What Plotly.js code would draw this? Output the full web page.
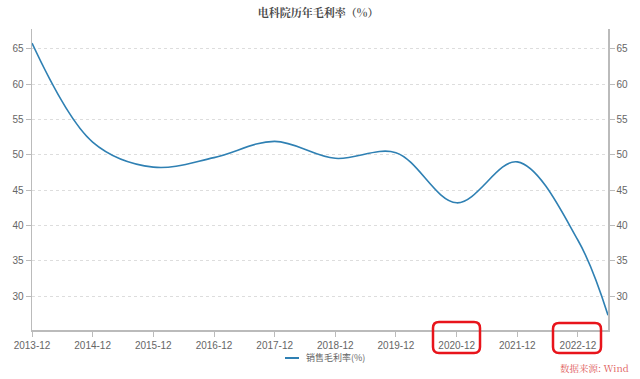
<!DOCTYPE html>
<html>
<head>
<meta charset="utf-8">
<script src="https://cdn.plot.ly/plotly-3.0.1.min.js"></script>
<style>html,body{margin:0;padding:0;background:#fff;}#chart{width:640px;height:379px;}</style>
</head>
<body>
<div id="chart"></div>
<script>
// Data
var periods = ['2013-12-31','2014-12-31','2015-12-31','2016-12-31','2017-12-31','2018-12-31','2019-12-31','2020-12-31','2021-12-31','2022-12-31','2023-06-30'];
var grossMargin = [65.8, 51.8, 48.25, 49.6, 51.9, 49.5, 50.3, 43.2, 49.0, 37.9, 27.3];
var tickDates = ['2013-12-31','2014-12-31','2015-12-31','2016-12-31','2017-12-31','2018-12-31','2019-12-31','2020-12-31','2021-12-31','2022-12-31'];
var tickLabels = ['2013-12','2014-12','2015-12','2016-12','2017-12','2018-12','2019-12','2020-12','2021-12','2022-12'];
var yTicks = [30,35,40,45,50,55,60,65];
var seriesName = '销售毛利率(%)';
var chartTitle = '电科院历年毛利率（%）';
var sourceText = '数据来源: Wind';

var W = 640, H = 379, ML = 32, MR = 32, MT = 29, MB = 49;
var PW = W - ML - MR, PH = H - MT - MB;
function px(x){ return (x - ML) / PW; }
function py(y){ return (H - MB - y) / PH; }
function roundRect(x0, y0, x1, y1, r){
  var a = px(x0), b = px(x1), c = py(y0), d = py(y1);
  var rx = r / PW, ry = r / PH;
  return 'M' + (a+rx) + ',' + c + ' L' + (b-rx) + ',' + c + ' Q' + b + ',' + c + ' ' + b + ',' + (c-ry) +
    ' L' + b + ',' + (d+ry) + ' Q' + b + ',' + d + ' ' + (b-rx) + ',' + d +
    ' L' + (a+rx) + ',' + d + ' Q' + a + ',' + d + ' ' + a + ',' + (d+ry) +
    ' L' + a + ',' + (c-ry) + ' Q' + a + ',' + c + ' ' + (a+rx) + ',' + c + ' Z';
}

var lineColor = '#2f80b3';
var trace = {
  x: periods, y: grossMargin, type: 'scatter', mode: 'lines', name: seriesName,
  line: {color: lineColor, width: 1.6, shape: 'spline', smoothing: 1},
  showlegend: false, hoverinfo: 'skip'
};
var trace2 = {
  x: periods, y: grossMargin, type: 'scatter', mode: 'lines', yaxis: 'y2',
  line: {color: 'rgba(0,0,0,0)', width: 0}, showlegend: false, hoverinfo: 'skip'
};

var axisFont = {family: 'Liberation Sans, Arial, sans-serif', size: 10, color: '#666'};
var yRange = [25.2, 67.8];

var layout = {
  width: W, height: H,
  margin: {l: ML, r: MR, t: MT, b: MB, pad: 0},
  paper_bgcolor: '#fff', plot_bgcolor: '#fff',
  showlegend: false,
  title: {text: chartTitle, x: 0.497, xanchor: 'center', y: 1 - 13/H, yanchor: 'middle',
          font: {family: 'Noto Serif CJK SC, Noto Sans CJK SC, serif', size: 11, color: '#4a4a4a', weight: 'bold'}},
  xaxis: {
    type: 'date', range: ['2013-12-31','2023-06-30'], automargin: false,
    tickmode: 'array', tickvals: tickDates, ticktext: tickLabels,
    showgrid: false, zeroline: false, showline: true, linecolor: '#bbb', linewidth: 1.5,
    ticks: 'outside', ticklen: 5, tickcolor: '#bbb', tickfont: axisFont
  },
  yaxis: {
    range: yRange, tickmode: 'array', tickvals: yTicks, automargin: false,
    showgrid: true, gridcolor: '#ddd', griddash: 'dot', gridwidth: 1,
    zeroline: false, showline: true, linecolor: '#bbb', linewidth: 1.5,
    ticks: 'outside', ticklen: 5, tickcolor: '#bbb', tickfont: axisFont
  },
  yaxis2: {
    range: yRange, overlaying: 'y', side: 'right', tickmode: 'array', tickvals: yTicks, automargin: false,
    showgrid: false, zeroline: false, showline: true, linecolor: '#bbb', linewidth: 1.5,
    ticks: 'outside', ticklen: 5, tickcolor: '#bbb', tickfont: axisFont
  },
  shapes: [
    {type: 'path', xref: 'paper', yref: 'paper', path: roundRect(433, 322, 480, 353, 6),
     line: {color: '#e8141b', width: 2.5}, fillcolor: 'rgba(0,0,0,0)'},
    {type: 'path', xref: 'paper', yref: 'paper', path: roundRect(553, 323, 601, 353, 6),
     line: {color: '#e8141b', width: 2.5}, fillcolor: 'rgba(0,0,0,0)'},
    // legend sample line
    {type: 'line', xref: 'paper', yref: 'paper', x0: px(285), x1: px(299), y0: py(358), y1: py(358),
     line: {color: lineColor, width: 2}}
  ],
  annotations: [
    {text: seriesName, xref: 'paper', yref: 'paper', x: px(304), y: py(357.5), xanchor: 'left', yanchor: 'middle',
     showarrow: false, font: {family: 'Noto Sans CJK SC, sans-serif', size: 9, color: '#666'}},
    {text: sourceText, xref: 'paper', yref: 'paper', x: px(631), y: py(368), xanchor: 'right', yanchor: 'middle',
     showarrow: false, font: {family: 'Noto Serif CJK SC, Liberation Sans, serif', size: 9.5, color: '#e05a5a'}}
  ]
};

Plotly.newPlot('chart', [trace, trace2], layout, {displayModeBar: false, staticPlot: true});
</script>
</body>
</html>
